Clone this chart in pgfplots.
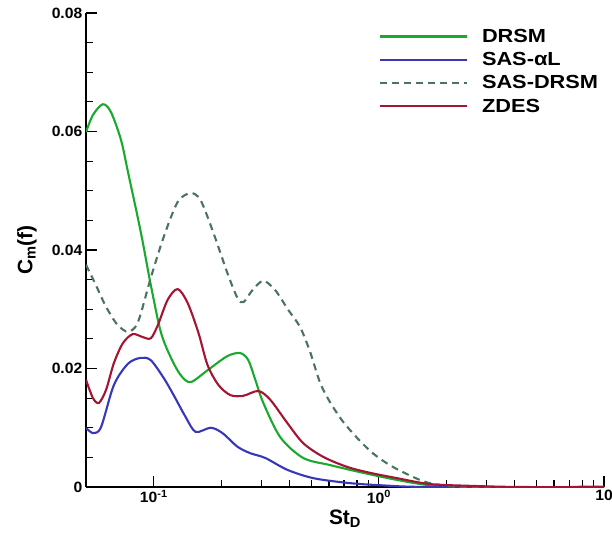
\documentclass[border=0pt]{standalone}
\usepackage{pgfplots}
\pgfplotsset{compat=1.18}
\usepackage{fontspec}
\setmainfont{Liberation Sans}
\definecolor{cdrsm}{RGB}{25,170,45}
\definecolor{csas}{RGB}{55,55,185}
\definecolor{csasd}{RGB}{75,115,95}
\definecolor{czdes}{RGB}{165,20,50}
\begin{document}
\begin{tikzpicture}
\begin{axis}[
  scale only axis, width=518bp, height=474bp,
  xmode=log, xmin=0.05, xmax=10, ymin=0, ymax=0.08,
  axis lines=left, axis line style={-, line width=1.8bp},
  tick align=inside,
  major tick length=11bp, minor tick length=7bp,
  every tick/.style={black, line width=1.2bp},
  xtick={0.1,1,10},
  xticklabels={10\textsuperscript{-1},10\textsuperscript{0},10},
  ytick={0,0.02,0.04,0.06,0.08},
  yticklabels={0,0.02,0.04,0.06,0.08},
  minor ytick={0.005,0.01,0.015,0.025,0.03,0.035,0.045,0.05,0.055,0.065,0.07,0.075},
  ticklabel style={font=\fontsize{15}{15}\selectfont\bfseries, xscale=1.05},
  xlabel={St\textsubscript{D}},
  ylabel={C\textsubscript{m}(f)},
  label style={font=\fontsize{21}{21}\selectfont\bfseries},
  ylabel shift=8bp,
  legend style={draw=none, fill=none, at={(0.559,0.9726)}, anchor=north west,
    font=\fontsize{19}{19}\selectfont\bfseries, row sep=6.5bp,
    nodes={xscale=1.15, inner sep=1bp}},
  legend cell align=left,
  legend image code/.code={\draw[#1] (0bp,0bp) -- (87bp,0bp); \path (100bp,0bp);},
  every axis plot/.append style={line width=2.1bp, smooth, tension=0.5},
]
\addplot[cdrsm] coordinates {
(0.05,0.0599)(0.0537,0.0628)(0.0594,0.0646)(0.0645,0.0633)(0.0715,0.0586)
(0.0768,0.0532)(0.0876,0.0430)(0.0970,0.0341)(0.1074,0.0262)(0.1189,0.0219)
(0.1316,0.0189)(0.1458,0.0177)(0.1733,0.0197)(0.2124,0.0221)(0.2425,0.0226)
(0.263,0.0214)(0.2825,0.0181)(0.3066,0.0142)(0.3648,0.0084)(0.4612,0.0049)
(0.607,0.0037)(0.849,0.0024)(1.202,0.0012)(1.68,0.0003)(2.53,0)(10,0)};
\addlegendentry{DRSM}
\addplot[csas] coordinates {
(0.05,0.0100)(0.0537,0.0091)(0.0583,0.0101)(0.0665,0.0172)(0.0768,0.0208)
(0.0876,0.0218)(0.097,0.0214)(0.1107,0.0184)(0.1226,0.0155)(0.1386,0.0118)
(0.1535,0.0093)(0.179,0.0100)(0.2019,0.0091)(0.2354,0.0068)(0.2686,0.0057)
(0.313,0.0049)(0.392,0.0029)(0.5105,0.0015)(0.7217,0.0007)(1.01,0.0003)
(1.68,0)(10,0)};
\addlegendentry{SAS-αL}
\addplot[csasd, dash pattern=on 7bp off 5bp] coordinates {
(0.05,0.0375)(0.0553,0.0341)(0.0601,0.0311)(0.0645,0.0290)(0.0693,0.0273)
(0.0768,0.0262)(0.0850,0.0278)(0.097,0.0353)(0.1107,0.0422)(0.1277,0.0481)
(0.1458,0.0496)(0.1614,0.0484)(0.1841,0.0429)(0.2124,0.0361)(0.2354,0.0319)
(0.2503,0.0312)(0.2741,0.0332)(0.3066,0.0348)(0.3467,0.0332)(0.3956,0.0299)
(0.4466,0.0270)(0.4949,0.0228)(0.548,0.0176)(0.607,0.0143)(0.6938,0.0110)
(0.800,0.0083)(0.940,0.0057)(1.153,0.0034)(1.566,0.0010)(1.92,0.0003)
(2.53,0)(10,0)};
\addlegendentry{SAS-DRSM}
\addplot[czdes] coordinates {
(0.05,0.0181)(0.0537,0.0150)(0.0571,0.0142)(0.0614,0.0164)(0.0665,0.0209)
(0.0730,0.0243)(0.0807,0.0258)(0.0894,0.0253)(0.097,0.0251)(0.1042,0.0273)
(0.1153,0.0316)(0.1277,0.0334)(0.1413,0.0311)(0.158,0.0260)(0.1733,0.0206)
(0.194,0.0172)(0.2193,0.0155)(0.2503,0.0154)(0.2917,0.0162)(0.3297,0.0147)
(0.392,0.0108)(0.4612,0.0074)(0.565,0.0051)(0.7217,0.0034)(0.912,0.0024)
(1.202,0.0015)(1.68,0.0005)(2.53,0.0002)(4.2,0)(10,0)};
\addlegendentry{ZDES}
\end{axis}
\pgfresetboundingbox
\path[use as bounding box] (-86bp,-50bp) rectangle (526bp,487bp);
\end{tikzpicture}
\end{document}
